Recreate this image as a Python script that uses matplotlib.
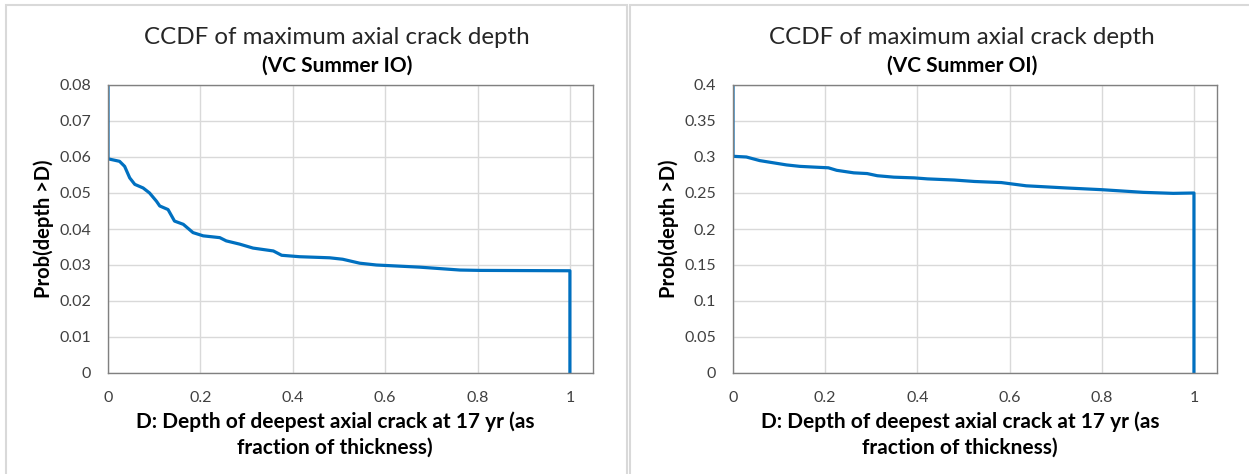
import matplotlib.pyplot as plt
from matplotlib.patches import Rectangle

# CCDF curves (D as fraction of thickness)
depth_io = [0, 0, 0.025, 0.036, 0.047, 0.058, 0.076, 0.090, 0.105, 0.112, 0.130, 0.144,
            0.163, 0.184, 0.206, 0.242, 0.256, 0.285, 0.314, 0.358, 0.376, 0.415, 0.459,
            0.480, 0.508, 0.545, 0.581, 0.675, 0.762, 0.805, 1.0, 1.0]
prob_io = [1.0, 0.0595, 0.0588, 0.0574, 0.0542, 0.0524, 0.0514, 0.0500, 0.0477, 0.0464, 0.0454, 0.0422,
           0.0413, 0.0390, 0.0381, 0.0376, 0.0367, 0.0358, 0.0347, 0.0339, 0.0327, 0.0323, 0.0321,
           0.0320, 0.0316, 0.0305, 0.0300, 0.0294, 0.0286, 0.0285, 0.0284, 0.0]

depth_oi = [0, 0, 0.029, 0.058, 0.087, 0.116, 0.145, 0.175, 0.207, 0.225, 0.262, 0.291, 0.313,
            0.349, 0.393, 0.422, 0.48, 0.524, 0.582, 0.636, 0.723, 0.8, 0.89, 0.955, 1.0, 1.0]
prob_oi = [1.0, 0.301, 0.300, 0.295, 0.292, 0.289, 0.287, 0.286, 0.285, 0.2815, 0.278, 0.277, 0.274,
           0.272, 0.271, 0.2696, 0.268, 0.266, 0.2645, 0.260, 0.257, 0.2546, 0.2509, 0.2495, 0.250, 0.0]

titles = ['(VC Summer IO)', '(VC Summer OI)']
ymax = [0.08, 0.4]
ystep = [0.01, 0.05]
xticks = [0, 0.2, 0.4, 0.6, 0.8, 1]

plt.rcParams['font.family'] = ['Lato', 'DejaVu Sans']
blue = '#0070C0'
txt = '#404040'

fig = plt.figure(figsize=(12.49, 4.74), dpi=100)
W, H = 1249, 474

# panel frames
for x0, x1 in [(6, 627), (630, 1252)]:
    fig.patches.append(Rectangle((x0 / W, -0.05), (x1 - x0) / W, 1.05 - 5 / H,
                                 transform=fig.transFigure, fill=False,
                                 edgecolor='#D9D9D9', linewidth=1.5))

axes_px = [(108, 593), (733, 1217)]
title_cx = [337, 962]
data = [(depth_io, prob_io), (depth_oi, prob_oi)]
fmt = [lambda v: '0' if v == 0 else f'{v:.2f}', lambda v: '0' if v == 0 else f'{v:g}']

for i in range(2):
    x0, x1 = axes_px[i]
    ax = fig.add_axes([x0 / W, 1 - 373 / H, (x1 - x0) / W, (373 - 85) / H])
    d, p = data[i]
    ax.plot(d, p, color=blue, linewidth=2.3)
    ax.set_xlim(0, 1.05)
    ax.set_ylim(0, ymax[i])
    ax.set_xticks(xticks)
    ax.set_xticklabels([f'{v:g}' for v in xticks])
    n = int(round(ymax[i] / ystep[i]))
    yt = [k * ystep[i] for k in range(n + 1)]
    ax.set_yticks(yt)
    ax.set_yticklabels([fmt[i](round(v, 4)) for v in yt])
    ax.grid(True, color='#D9D9D9', linewidth=1)
    ax.set_axisbelow(True)
    for s in ax.spines.values():
        s.set_color('#808080')
        s.set_linewidth(1)
    ax.tick_params(length=0, labelsize=11.5, colors=txt)
    ax.tick_params(axis='x', pad=13)
    ax.tick_params(axis='y', pad=12)
    ax.set_ylabel('Prob(depth >D)', fontsize=14.5, fontweight='bold', color='black', labelpad=4)
    ax.set_xlabel('D: Depth of deepest axial crack at 17 yr (as\nfraction of thickness)',
                  fontsize=15, fontweight='bold', color='black', linespacing=1.35)
    ax.xaxis.set_label_coords((title_cx[i] - 2 - x0) / (x1 - x0), -0.135, transform=ax.transAxes)
    ax.xaxis.label.set_va('top')
    cx = title_cx[i] / W
    fig.text(cx, 1 - 37 / H, 'CCDF of maximum axial crack depth', ha='center', va='center',
             fontsize=17.4, color='#262626')
    fig.text(cx, 1 - 66 / H, titles[i], ha='center', va='center', fontsize=15,
             fontweight='bold', color='black')

fig.savefig('out.png', dpi=100)
